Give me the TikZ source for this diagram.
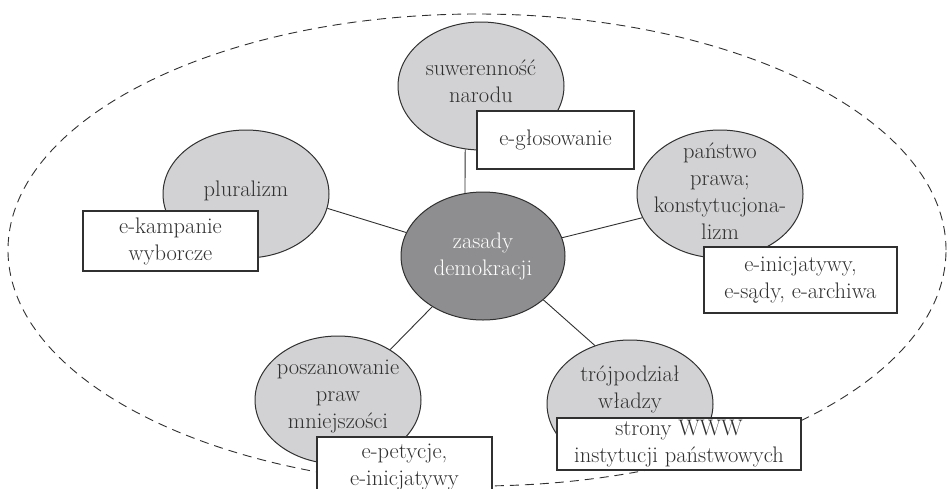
\documentclass[tikz,border=0pt]{standalone}
\usetikzlibrary{shapes.geometric}
\definecolor{ink}{HTML}{303030}
\definecolor{lgray}{HTML}{D2D2D4}
\definecolor{dgray}{HTML}{8E8E90}
\begin{document}
\begin{tikzpicture}[x=1pt,y=-1pt,
  every node/.style={font=\fontsize{22.5}{27}\selectfont, text=ink},
  sub/.style={ellipse, draw=ink, line width=1pt, fill=lgray, minimum width=166pt, minimum height=128pt, inner sep=0pt},
  hub/.style={sub, fill=dgray, minimum width=164pt},
  lbl/.style={align=center, inner sep=0pt},
  tag/.style={draw=ink, line width=1.1pt, fill=white, align=center, inner sep=0pt},
  link/.style={draw=ink, line width=0.9pt}]
\useasboundingbox (0,0) rectangle (948,488);
\fill[white] (0,0) rectangle (948,488);
\draw[ink, line width=0.9pt, dash pattern=on 9pt off 6pt] (477,250) ellipse [x radius=469pt, y radius=236pt];
% principles
\node[hub, label={[lbl, text=white]center:{zasady\\demokracji}}] (hub) at (483,256) {};
\node[sub, label={[lbl, yshift=5pt]center:{suwerenność\\narodu}}] (suw) at (481,86) {};
\node[sub, label={[lbl, yshift=3pt]center:{pluralizm}}] (plu) at (246,194) {};
\node[sub, label={[lbl, yshift=3pt]center:{państwo\\prawa;\\konstytucjona-\\lizm}}] (pan) at (720,194) {};
\node[sub, label={[lbl, yshift=3pt]center:{poszanowanie\\praw\\mniejszości}}] (pos) at (338,400) {};
\node[sub, label={[lbl, yshift=15pt]center:{trójpodział\\władzy}}] (tro) at (630,404) {};
% connectors
\draw[link] (hub.106) -- (suw.256);
\draw[link] (hub.163) -- (plu.350);
\draw[link] (hub.13) -- (pan.197);
\draw[link] (hub.225) -- (pos.44);
\draw[link] (hub.324) -- (tro.121);
% e-tools
\node[tag, minimum width=157pt, minimum height=58pt] (glos) at (555.5,140) {e-głosowanie};
\node[tag, minimum width=175pt, minimum height=60pt] (kamp) at (170.5,241) {e-kampanie\\wyborcze};
\node[tag, minimum width=193pt, minimum height=66pt] (inic) at (800.5,280) {e-inicjatywy,\\e-sądy, e-archiwa};
\node[tag, minimum width=175pt, minimum height=60pt] (pet) at (404.5,467) {e-petycje,\\e-inicjatywy};
\node[tag, minimum width=244pt, minimum height=52pt] (www) at (679,444) {strony WWW\\instytucji państwowych};
\end{tikzpicture}
\end{document}
